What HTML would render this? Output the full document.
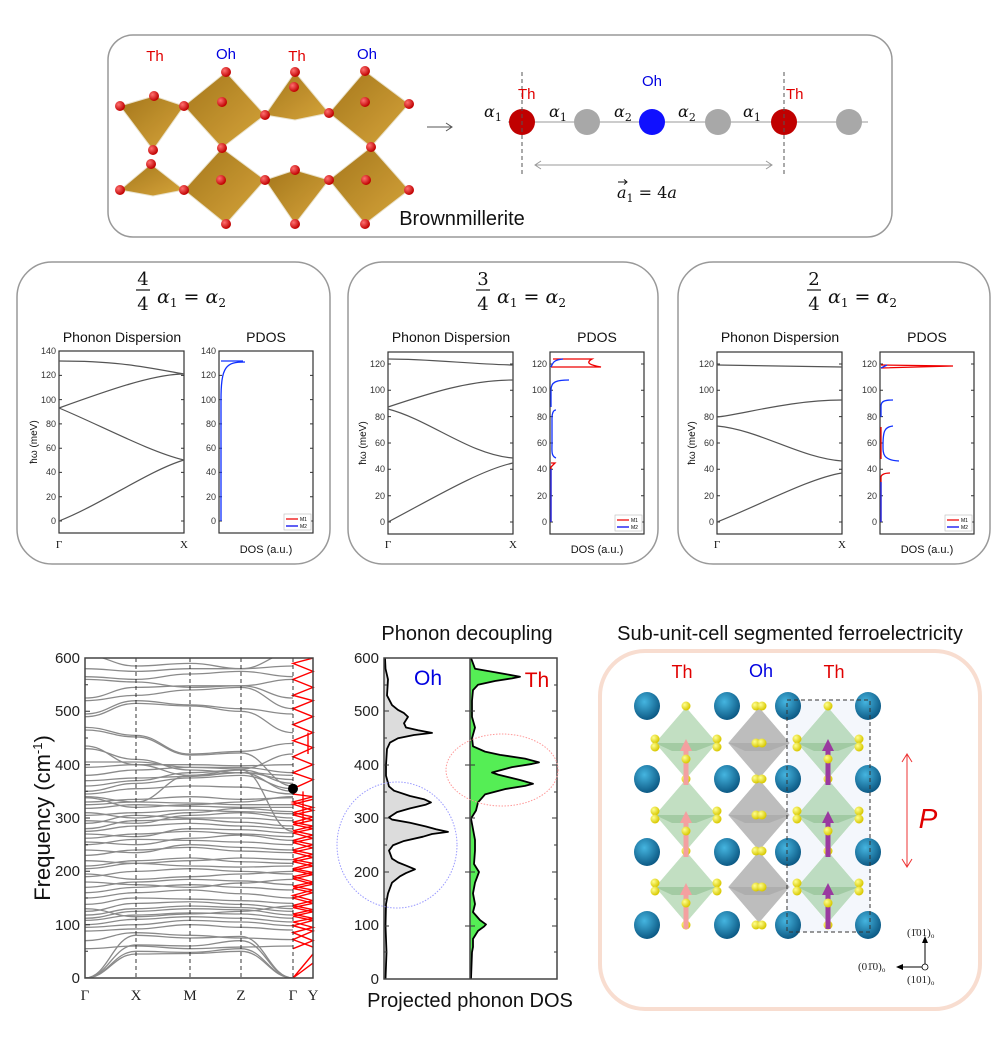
<!DOCTYPE html>
<html><head><meta charset="utf-8"><style>
html,body{margin:0;padding:0;background:#fff;}
svg{display:block;font-family:"Liberation Sans",sans-serif;}
.m{font-family:"DejaVu Serif","Liberation Serif",serif;font-style:italic;}
.tk{font-size:9px;fill:#333;}
.bt{font-size:15px;fill:#222;}
.ns{vector-effect:non-scaling-stroke;}
</style></head><body>
<svg width="1000" height="1040" viewBox="0 0 1000 1040" xmlns="http://www.w3.org/2000/svg">
<defs>
<radialGradient id="rb" cx="35%" cy="35%" r="65%"><stop offset="0" stop-color="#ff7070"/><stop offset="1" stop-color="#c00000"/></radialGradient>
<radialGradient id="bl" cx="40%" cy="35%" r="65%"><stop offset="0" stop-color="#45b5e0"/><stop offset="1" stop-color="#0d5a85"/></radialGradient>
<radialGradient id="yl" cx="35%" cy="35%" r="65%"><stop offset="0" stop-color="#ffff90"/><stop offset="1" stop-color="#d8c800"/></radialGradient>
<linearGradient id="br" x1="0" y1="0" x2="1" y2="1"><stop offset="0" stop-color="#a07010"/><stop offset="1" stop-color="#d4a030"/></linearGradient>
<clipPath id="dc"><rect x="85" y="658" width="208" height="320"/></clipPath>
<g id="og"><polygon points="0,-36 31,0 0,36 -31,0" fill="#9acb9a" opacity="0.6" stroke="#fff" stroke-width="0.5"/><polygon points="-31,0 31,0 10,8 -14,8" fill="#7fb37f" opacity="0.45"/></g>
<g id="oo"><polygon points="0,-36 31,0 0,36 -31,0" fill="#a8a8a8" opacity="0.75" stroke="#fff" stroke-width="0.5"/><polygon points="-31,0 31,0 10,8 -14,8" fill="#999" opacity="0.4"/></g>
<circle id="yb" r="4.5" fill="url(#yl)"/>
<ellipse id="bs" rx="13" ry="14" fill="url(#bl)"/>
<g id="ap"><rect x="-2.5" y="3" width="5" height="39" fill="#f4a0a0"/><polygon points="-6,8 0,-4 6,8" fill="#f4a0a0"/></g>
<g id="aq"><rect x="-2.5" y="3" width="5" height="39" fill="#9a3aa0"/><polygon points="-6,8 0,-4 6,8" fill="#9a3aa0"/></g>
</defs>

<!-- TOP BOX -->
<rect x="108" y="35" width="784" height="202" rx="25" fill="#fff" stroke="#999" stroke-width="1.5"/>
<g stroke="#e8e0c8" stroke-width="1" fill="url(#br)" opacity="0.95">
<polygon points="120,106 154,96 184,106 153,150"/>
<polygon points="226,72 265,115 222,148 184,106"/>
<polygon points="295,72 329,113 295,120 265,115"/>
<polygon points="365,71 409,104 371,147 329,113"/>
<polygon points="151,164 184,190 153,196 120,190"/>
<polygon points="222,148 265,180 226,224 184,190"/>
<polygon points="265,180 295,170 329,180 295,224"/>
<polygon points="371,147 409,190 365,224 329,180"/>
</g>
<g fill="url(#rb)">
<circle cx="120" cy="106" r="5"/><circle cx="154" cy="96" r="5"/><circle cx="184" cy="106" r="5"/><circle cx="153" cy="150" r="5"/>
<circle cx="226" cy="72" r="5"/><circle cx="222" cy="102" r="5"/><circle cx="265" cy="115" r="5"/><circle cx="222" cy="148" r="5"/>
<circle cx="295" cy="72" r="5"/><circle cx="294" cy="87" r="5"/><circle cx="329" cy="113" r="5"/>
<circle cx="365" cy="71" r="5"/><circle cx="365" cy="102" r="5"/><circle cx="409" cy="104" r="5"/><circle cx="371" cy="147" r="5"/>
<circle cx="151" cy="164" r="5"/><circle cx="120" cy="190" r="5"/><circle cx="184" cy="190" r="5"/><circle cx="221" cy="180" r="5"/>
<circle cx="226" cy="224" r="5"/><circle cx="265" cy="180" r="5"/><circle cx="295" cy="170" r="5"/><circle cx="295" cy="224" r="5"/><circle cx="329" cy="180" r="5"/>
<circle cx="366" cy="180" r="5"/><circle cx="409" cy="190" r="5"/><circle cx="365" cy="224" r="5"/>
</g>
<text x="155" y="61" font-size="15" fill="#e00000" text-anchor="middle">Th</text>
<text x="226" y="59" font-size="15" fill="#0000e0" text-anchor="middle">Oh</text>
<text x="297" y="61" font-size="15" fill="#e00000" text-anchor="middle">Th</text>
<text x="367" y="59" font-size="15" fill="#0000e0" text-anchor="middle">Oh</text>
<line x1="427" y1="127" x2="452" y2="127" stroke="#555" stroke-width="1"/>
<path d="M446,123 L452,127 L446,131" fill="none" stroke="#555" stroke-width="1"/>
<text x="462" y="225" font-size="20" fill="#111" text-anchor="middle">Brownmillerite</text>
<line x1="508" y1="122" x2="868" y2="122" stroke="#bbb" stroke-width="1.5"/>
<circle cx="522" cy="122" r="13" fill="#c00000"/>
<circle cx="587" cy="122" r="13" fill="#a8a8a8"/>
<circle cx="652" cy="122" r="13" fill="#1010ff"/>
<circle cx="718" cy="122" r="13" fill="#a8a8a8"/>
<circle cx="784" cy="122" r="13" fill="#c00000"/>
<circle cx="849" cy="122" r="13" fill="#a8a8a8"/>
<line x1="522" y1="72" x2="522" y2="177" stroke="#555" stroke-dasharray="4,3"/>
<line x1="784" y1="72" x2="784" y2="177" stroke="#555" stroke-dasharray="4,3"/>
<line x1="535" y1="165" x2="772" y2="165" stroke="#999"/>
<path d="M541,161 L535,165 L541,169 M766,161 L772,165 L766,169" fill="none" stroke="#999"/>
<text x="518" y="99" font-size="15" fill="#e00000">Th</text>
<text x="786" y="99" font-size="15" fill="#e00000">Th</text>
<text x="652" y="86" font-size="15" fill="#0000e0" text-anchor="middle">Oh</text>
<g class="m" font-size="16" fill="#111">
<text x="484" y="117">α<tspan font-size="11" dy="4" font-style="normal">1</tspan></text>
<text x="549" y="117">α<tspan font-size="11" dy="4" font-style="normal">1</tspan></text>
<text x="614" y="117">α<tspan font-size="11" dy="4" font-style="normal">2</tspan></text>
<text x="678" y="117">α<tspan font-size="11" dy="4" font-style="normal">2</tspan></text>
<text x="743" y="117">α<tspan font-size="11" dy="4" font-style="normal">1</tspan></text>
<text x="617" y="198">a<tspan font-size="11" dy="4" font-style="normal">1</tspan><tspan dy="-4" font-style="normal"> = 4</tspan>a</text>
</g>
<path d="M618,182 L627,182 M624,179.5 L627,182 L624,184.5" fill="none" stroke="#111" stroke-width="1"/>

<!-- MIDDLE PANELS -->
<g fill="#fff" stroke="#999" stroke-width="1.5">
<rect x="17" y="262" width="313" height="302" rx="35"/>
<rect x="348" y="262" width="310" height="302" rx="35"/>
<rect x="678" y="262" width="312" height="302" rx="35"/>
</g>
<g font-family="DejaVu Serif,serif" font-size="18" fill="#111" text-anchor="middle">
<text x="143" y="285">4</text><text x="143" y="310">4</text>
<text x="483" y="285">3</text><text x="483" y="310">4</text>
<text x="814" y="285">2</text><text x="814" y="310">4</text>
</g>
<g stroke="#111" stroke-width="1.2"><line x1="136" y1="290" x2="150" y2="290"/><line x1="476" y1="290" x2="490" y2="290"/><line x1="807" y1="290" x2="821" y2="290"/></g>
<g class="m" font-size="19" fill="#111">
<text x="157" y="303">α<tspan font-size="12" dy="4" font-style="normal">1</tspan><tspan dy="-4" font-style="normal"> = </tspan>α<tspan font-size="12" dy="4" font-style="normal">2</tspan></text>
<text x="497" y="303">α<tspan font-size="12" dy="4" font-style="normal">1</tspan><tspan dy="-4" font-style="normal"> = </tspan>α<tspan font-size="12" dy="4" font-style="normal">2</tspan></text>
<text x="828" y="303">α<tspan font-size="12" dy="4" font-style="normal">1</tspan><tspan dy="-4" font-style="normal"> = </tspan>α<tspan font-size="12" dy="4" font-style="normal">2</tspan></text>
</g>
<g font-size="14" fill="#111" text-anchor="middle">
<text x="122" y="342">Phonon Dispersion</text><text x="266" y="342">PDOS</text>
<text x="451" y="342">Phonon Dispersion</text><text x="597" y="342">PDOS</text>
<text x="780" y="342">Phonon Dispersion</text><text x="927" y="342">PDOS</text>
</g>
<g font-size="11" fill="#111" text-anchor="middle">
<text x="266" y="553">DOS (a.u.)</text><text x="597" y="553">DOS (a.u.)</text><text x="927" y="553">DOS (a.u.)</text>
</g>
<g font-size="11" fill="#111" text-anchor="middle" font-family="Liberation Serif,serif">
<text x="59" y="548">Γ</text><text x="184" y="548">X</text>
<text x="388" y="548">Γ</text><text x="513" y="548">X</text>
<text x="717" y="548">Γ</text><text x="842" y="548">X</text>
</g>
<g font-size="10" fill="#111" text-anchor="middle">
<text transform="translate(37,442) rotate(-90)">ħω (meV)</text>
<text transform="translate(366,443) rotate(-90)">ħω (meV)</text>
<text transform="translate(695,443) rotate(-90)">ħω (meV)</text>
</g>
<!-- frames -->
<g fill="none" stroke="#333" stroke-width="1.2">
<rect x="59" y="351" width="125" height="182"/><rect x="219" y="351" width="94" height="182"/>
<rect x="388" y="352" width="125" height="182"/><rect x="550" y="352" width="94" height="182"/>
<rect x="717" y="352" width="125" height="182"/><rect x="880" y="352" width="94" height="182"/>
</g>
<!-- ticks panel1 -->
<g stroke="#333" stroke-width="1">
<path d="M59,521h3M59,496.7h3M59,472.4h3M59,448.2h3M59,423.9h3M59,399.6h3M59,375.4h3M181,521h3M181,496.7h3M181,472.4h3M181,448.2h3M181,423.9h3M181,399.6h3M181,375.4h3M219,521h3M219,496.7h3M219,472.4h3M219,448.2h3M219,423.9h3M219,399.6h3M219,375.4h3M310,521h3M310,496.7h3M310,472.4h3M310,448.2h3M310,423.9h3M310,399.6h3M310,375.4h3"/>
<path d="M388,522h3M388,495.7h3M388,469.3h3M388,443h3M388,416.6h3M388,390.3h3M388,364h3M510,522h3M510,495.7h3M510,469.3h3M510,443h3M510,416.6h3M510,390.3h3M510,364h3M550,522h3M550,495.7h3M550,469.3h3M550,443h3M550,416.6h3M550,390.3h3M550,364h3M641,522h3M641,495.7h3M641,469.3h3M641,443h3M641,416.6h3M641,390.3h3M641,364h3"/>
<path d="M717,522h3M717,495.7h3M717,469.3h3M717,443h3M717,416.6h3M717,390.3h3M717,364h3M839,522h3M839,495.7h3M839,469.3h3M839,443h3M839,416.6h3M839,390.3h3M839,364h3M880,522h3M880,495.7h3M880,469.3h3M880,443h3M880,416.6h3M880,390.3h3M880,364h3M971,522h3M971,495.7h3M971,469.3h3M971,443h3M971,416.6h3M971,390.3h3M971,364h3"/>
</g>
<g class="tk" text-anchor="end">
<text x="56" y="524">0</text><text x="56" y="500">20</text><text x="56" y="475">40</text><text x="56" y="451">60</text><text x="56" y="427">80</text><text x="56" y="403">100</text><text x="56" y="378">120</text><text x="56" y="354">140</text>
<text x="216" y="524">0</text><text x="216" y="500">20</text><text x="216" y="475">40</text><text x="216" y="451">60</text><text x="216" y="427">80</text><text x="216" y="403">100</text><text x="216" y="378">120</text><text x="216" y="354">140</text>
<text x="385" y="525">0</text><text x="385" y="499">20</text><text x="385" y="472">40</text><text x="385" y="446">60</text><text x="385" y="420">80</text><text x="385" y="393">100</text><text x="385" y="367">120</text>
<text x="547" y="525">0</text><text x="547" y="499">20</text><text x="547" y="472">40</text><text x="547" y="446">60</text><text x="547" y="420">80</text><text x="547" y="393">100</text><text x="547" y="367">120</text>
<text x="714" y="525">0</text><text x="714" y="499">20</text><text x="714" y="472">40</text><text x="714" y="446">60</text><text x="714" y="420">80</text><text x="714" y="393">100</text><text x="714" y="367">120</text>
<text x="877" y="525">0</text><text x="877" y="499">20</text><text x="877" y="472">40</text><text x="877" y="446">60</text><text x="877" y="420">80</text><text x="877" y="393">100</text><text x="877" y="367">120</text>
</g>
<!-- dispersion bands -->
<g fill="none" stroke="#555" stroke-width="1.2">
<path d="M59,361 C119,361 144,367 184,374"/>
<path d="M59,408 C109,390 154,374 184,374"/>
<path d="M59,408 C100,425 150,452 184,460"/>
<path d="M59,521 C100,505 150,470 184,460"/>
<path d="M388,359 C430,359 470,364 513,365"/>
<path d="M388,407 C430,393 470,380 513,380"/>
<path d="M388,409 C430,420 470,455 513,458"/>
<path d="M388,522 C430,500 480,470 513,463"/>
<path d="M717,365 L842,367"/>
<path d="M717,417 C740,415 790,400 842,400"/>
<path d="M717,426 C760,430 800,458 842,461"/>
<path d="M717,522 C760,505 810,478 842,473"/>
</g>
<!-- PDOS curves -->
<g fill="none" stroke-width="1.3">
<path d="M221,521 L221,400 C221,366 226,362 245,362 M221,361 L243,361" stroke="#1030ff"/>
<path d="M551,522 L551,467 L555,463 L551,463" stroke="#e00"/>
<path d="M551,522 L551,469" stroke="#1030ff"/>
<path d="M556,458 C551,456 552,451 552,443 L552,419 C552,413 553,410 556,410" stroke="#1030ff"/>
<path d="M551,407 L551,390 C551,382 556,380 569,380" stroke="#1030ff"/>
<path d="M551,367 L601,367 C590,365 585,363 592,359 L553,359" stroke="#e00"/>
<path d="M551,367 C553,363 553,360 563,359" stroke="#1030ff"/>
<path d="M881,522 L881,477 C881,475 884,473 890,473" stroke="#e00"/>
<path d="M881,522 L881,482" stroke="#1030ff"/>
<path d="M899,461 C883,460 883,454 883,446 C883,432 884,427 893,426" stroke="#1030ff"/>
<path d="M881,459 L881,427" stroke="#e00"/>
<path d="M881,417 L881,406 C881,401 885,400 893,400" stroke="#1030ff"/>
<path d="M881,368 L953,366 L881,365" stroke="#e00"/>
<path d="M881,368 L887,365" stroke="#1030ff"/>
</g>
<!-- legends -->
<g>
<rect x="284" y="514" width="27" height="16" fill="#fff" stroke="#bbb" stroke-width="0.6"/>
<rect x="615" y="515" width="27" height="16" fill="#fff" stroke="#bbb" stroke-width="0.6"/>
<rect x="945" y="515" width="27" height="16" fill="#fff" stroke="#bbb" stroke-width="0.6"/>
<path d="M286,519h12M617,520h12M947,520h12" stroke="#e00" stroke-width="1.3"/>
<path d="M286,526h12M617,527h12M947,527h12" stroke="#00e" stroke-width="1.3"/>
<g font-size="5"><text x="300" y="521">M1</text><text x="300" y="528">M2</text><text x="631" y="522">M1</text><text x="631" y="529">M2</text><text x="961" y="522">M1</text><text x="961" y="529">M2</text></g>
</g>

<!-- BOTTOM LEFT dispersion -->
<g clip-path="url(#dc)">
<g transform="translate(0,978) scale(1,-0.5333)" fill="none" stroke="#8a8a8a" stroke-width="1.3">
<path class="ns" d="M85,0 C108,0 113,50 136,50 S166,48 190,48 S218,55 241,55 S270,0 293,0"/>
<path class="ns" d="M85,0 C108,0 113,45 136,45 S166,46 190,46 S218,50 241,50 S270,0 293,0"/>
<path class="ns" d="M85,0 C108,0 113,62 136,62 S166,60 190,60 S218,70 241,70 S270,0 293,0"/>
<path class="ns" d="M85,0 C108,0 113,80 136,80 S166,75 190,75 S218,78 241,78 S270,0 293,0"/>
<path class="ns" d="M85,55 C108,55 113,60 136,60 S166,55 190,55 S218,58 241,58 S270,60 293,60"/>
<path class="ns" d="M85,70 C108,70 113,85 136,85 S166,80 190,80 S218,75 241,75 S270,72 293,72"/>
<path class="ns" d="M85,88 C108,88 113,92 136,92 S166,100 190,100 S218,95 241,95 S270,90 293,90"/>
<path class="ns" d="M85,95 C108,95 113,100 136,100 S166,108 190,108 S218,105 241,105 S270,98 293,98"/>
<path class="ns" d="M85,100 C108,100 113,110 136,110 S166,115 190,115 S218,112 241,112 S270,105 293,105"/>
<path class="ns" d="M85,108 C108,108 113,118 136,118 S166,122 190,122 S218,120 241,120 S270,112 293,112"/>
<path class="ns" d="M85,112 C108,112 113,125 136,125 S166,130 190,130 S218,128 241,128 S270,118 293,118"/>
<path class="ns" d="M85,118 C108,118 113,130 136,130 S166,135 190,135 S218,132 241,132 S270,125 293,125"/>
<path class="ns" d="M85,125 C108,125 113,140 136,140 S166,143 190,143 S218,138 241,138 S270,130 293,130"/>
<path class="ns" d="M85,130 C108,130 113,115 136,115 S166,120 190,120 S218,125 241,125 S270,135 293,135"/>
<path class="ns" d="M85,138 C108,138 113,150 136,150 S166,148 190,148 S218,145 241,145 S270,140 293,140"/>
<path class="ns" d="M85,150 C108,150 113,160 136,160 S166,165 190,165 S218,158 241,158 S270,150 293,150"/>
<path class="ns" d="M85,160 C108,160 113,170 136,170 S166,175 190,175 S218,170 241,170 S270,165 293,165"/>
<path class="ns" d="M85,170 C108,170 113,180 136,180 S166,185 190,185 S218,182 241,182 S270,175 293,175"/>
<path class="ns" d="M85,180 C108,180 113,175 136,175 S166,170 190,170 S218,178 241,178 S270,185 293,185"/>
<path class="ns" d="M85,190 C108,190 113,200 136,200 S166,205 190,205 S218,200 241,200 S270,195 293,195"/>
<path class="ns" d="M85,195 C108,195 113,185 136,185 S166,190 190,190 S218,195 241,195 S270,200 293,200"/>
<path class="ns" d="M85,205 C108,205 113,215 136,215 S166,210 190,210 S218,208 241,208 S270,210 293,210"/>
<path class="ns" d="M85,210 C108,210 113,220 136,220 S166,225 190,225 S218,218 241,218 S270,215 293,215"/>
<path class="ns" d="M85,220 C108,220 113,215 136,215 S166,220 190,220 S218,225 241,225 S270,222 293,222"/>
<path class="ns" d="M85,230 C108,230 113,240 136,240 S166,245 190,245 S218,238 241,238 S270,235 293,235"/>
<path class="ns" d="M85,240 C108,240 113,235 136,235 S166,250 190,250 S218,245 241,245 S270,240 293,240"/>
<path class="ns" d="M85,250 C108,250 113,260 136,260 S166,258 190,258 S218,255 241,255 S270,250 293,250"/>
<path class="ns" d="M85,255 C108,255 113,250 136,250 S166,262 190,262 S218,268 241,268 S270,258 293,258"/>
<path class="ns" d="M85,262 C108,262 113,270 136,270 S166,275 190,275 S218,270 241,270 S270,265 293,265"/>
<path class="ns" d="M85,270 C108,270 113,265 136,265 S166,280 190,280 S218,278 241,278 S270,272 293,272"/>
<path class="ns" d="M85,275 C108,275 113,285 136,285 S166,290 190,290 S218,285 241,285 S270,280 293,280"/>
<path class="ns" d="M85,280 C108,280 113,295 136,295 S166,298 190,298 S218,292 241,292 S270,285 293,285"/>
<path class="ns" d="M85,290 C108,290 113,305 136,305 S166,300 190,300 S218,300 241,300 S270,295 293,295"/>
<path class="ns" d="M85,295 C108,295 113,290 136,290 S166,305 190,305 S218,310 241,310 S270,300 293,300"/>
<path class="ns" d="M85,305 C108,305 113,310 136,310 S166,315 190,315 S218,312 241,312 S270,308 293,308"/>
<path class="ns" d="M85,310 C108,310 113,300 136,300 S166,310 190,310 S218,318 241,318 S270,312 293,312"/>
<path class="ns" d="M85,318 C108,318 113,325 136,325 S166,322 190,322 S218,320 241,320 S270,320 293,320"/>
<path class="ns" d="M85,325 C108,325 113,330 136,330 S166,328 190,328 S218,325 241,325 S270,325 293,325"/>
<path class="ns" d="M85,330 C108,330 113,335 136,335 S166,340 190,340 S218,335 241,335 S270,338 293,338"/>
<path class="ns" d="M85,338 C108,338 113,320 136,320 S166,325 190,325 S218,330 241,330 S270,340 293,340"/>
<path class="ns" d="M85,345 C108,345 113,355 136,355 S166,360 190,360 S218,358 241,358 S270,345 293,345"/>
<path class="ns" d="M85,350 C108,350 113,365 136,365 S166,375 190,375 S218,380 241,380 S270,355 293,355"/>
<path class="ns" d="M85,360 C108,360 113,370 136,370 S166,385 190,385 S218,390 241,390 S270,365 293,365"/>
<path class="ns" d="M85,370 C108,370 113,375 136,375 S166,378 190,378 S218,385 241,385 S270,372 293,372"/>
<path class="ns" d="M85,380 C108,380 113,390 136,390 S166,395 190,395 S218,395 241,395 S270,385 293,385"/>
<path class="ns" d="M85,395 C108,395 113,400 136,400 S166,400 190,400 S218,398 241,398 S270,400 293,400"/>
<path class="ns" d="M85,405 C108,405 113,405 136,405 S166,395 190,395 S218,392 241,392 S270,420 293,420"/>
<path class="ns" d="M85,430 C108,430 113,410 136,410 S166,390 190,390 S218,385 241,385 S270,380 293,380"/>
<path class="ns" d="M85,465 C108,465 113,452 136,452 S166,418 190,418 S218,422 241,422 S270,360 293,360"/>
<path class="ns" d="M85,470 C108,470 113,455 136,455 S166,420 190,420 S218,425 241,425 S270,440 293,440"/>
<path class="ns" d="M85,490 C108,490 113,515 136,515 S166,510 190,510 S218,500 241,500 S270,460 293,460"/>
<path class="ns" d="M85,495 C108,495 113,520 136,520 S166,512 190,512 S218,505 241,505 S270,495 293,495"/>
<path class="ns" d="M85,520 C108,520 113,530 136,530 S166,540 190,540 S218,545 241,545 S270,505 293,505"/>
<path class="ns" d="M85,525 C108,525 113,545 136,545 S166,548 190,548 S218,548 241,548 S270,525 293,525"/>
<path class="ns" d="M85,560 C108,560 113,555 136,555 S166,545 190,545 S218,548 241,548 S270,560 293,560"/>
<path class="ns" d="M85,565 C108,565 113,560 136,560 S166,570 190,570 S218,575 241,575 S270,565 293,565"/>
<path class="ns" d="M85,580 C108,580 113,575 136,575 S166,580 190,580 S218,580 241,580 S270,585 293,585"/>
<path class="ns" d="M85,605 C108,605 113,585 136,585 S166,590 190,590 S218,580 241,580 S270,610 293,610"/>
<path class="ns" d="M85,340 C108,340 113,330 136,330 S166,380 190,380 S218,390 241,390 S270,275 293,275"/>
<path class="ns" d="M85,435 C108,435 113,400 136,400 S166,380 190,380 S218,385 241,385 S270,350 293,350"/>
</g>
</g>
<g transform="translate(0,978) scale(1,-0.5333)" fill="none" stroke="#f00" stroke-width="1.4">
<path class="ns" d="M293,55 L313,70 L293,85 L313,95 L293,105 L313,112 L293,120 L313,128 L293,136 L313,145 L293,155 L313,165 L293,172 L313,180 L293,190 L313,198 L293,205 L313,215 L293,222 L313,232 L293,240 L313,250 L293,258 L313,268 L293,276 L313,285 L293,292 L313,302 L293,310 L313,320 L293,330 L313,340 L293,345"/>
<path class="ns" d="M313,58 L293,72 L313,88 L293,98 L313,108 L293,116 L313,124 L293,132 L313,140 L293,150 L313,160 L293,168 L313,176 L293,186 L313,194 L293,202 L313,210 L293,218 L313,226 L293,236 L313,244 L293,254 L313,262 L293,272 L313,280 L293,288 L313,296 L293,306 L313,314 L293,326 L313,335"/>
<path class="ns" d="M293,355 L313,372 L293,385 L313,400 L293,415 L313,432 L293,445 L313,460 L293,475 L313,490 L293,505 L313,520 L293,530 L313,545 L293,560 L313,575 L293,590 L313,600"/>
<path class="ns" d="M293,0 L313,45 M293,0 L313,28 M303,350 L303,290 M308,460 L308,420"/>
</g>
<g stroke="#222" stroke-dasharray="4,3" stroke-width="0.9">
<line x1="136" y1="658" x2="136" y2="978"/><line x1="190" y1="658" x2="190" y2="978"/><line x1="241" y1="658" x2="241" y2="978"/><line x1="293" y1="658" x2="293" y2="978"/>
</g>
<path d="M85,978h5M85,951.3h3M85,924.7h5M85,898h3M85,871.3h5M85,844.7h3M85,818h5M85,791.3h3M85,764.7h5M85,738h3M85,711.3h5M85,684.7h3" stroke="#333"/>
<circle cx="293" cy="788.7" r="5" fill="#000"/>
<rect x="85" y="658" width="228" height="320" fill="none" stroke="#444" stroke-width="1.5"/>
<g class="bt" text-anchor="end">
<text x="80" y="983">0</text><text x="80" y="930">100</text><text x="80" y="876">200</text><text x="80" y="823">300</text><text x="80" y="770">400</text><text x="80" y="716">500</text><text x="80" y="663">600</text>
</g>
<g font-family="Liberation Serif,serif" font-size="15" fill="#222" text-anchor="middle">
<text x="85" y="1000">Γ</text><text x="136" y="1000">X</text><text x="190" y="1000">M</text><text x="241" y="1000">Z</text><text x="293" y="1000">Γ</text><text x="313" y="1000">Y</text>
</g>
<text transform="translate(50,818) rotate(-90)" font-size="22" fill="#111" text-anchor="middle">Frequency (cm<tspan font-size="13" dy="-8">-1</tspan><tspan dy="8">)</tspan></text>

<!-- BOTTOM middle PDOS -->
<text x="467" y="640" font-size="20" fill="#111" text-anchor="middle">Phonon decoupling</text>
<g transform="translate(0,979) scale(1,-0.535)">
<path d="M384,0 L385.5,0 L386.5,50 L385.5,100 L386,140 L388,160 L392,180 L400,192 L406,198 L415,205 L406,212 L398,218 L392,225 L389,240 L393,250 L404,258 L423,266 L432,271 L448,275 L436,280 L426,285 L410,292 L392,298 L389,302 L397,312 L410,319 L426,326 L431,330 L424,336 L410,342 L394,352 L389,360 L386,380 L386,400 L387,430 L390,442 L398,450 L414,456 L432,460 L418,465 L406,470 L404,478 L406,484 L408,490 L404,497 L398,503 L392,512 L387,530 L388,560 L385.5,580 L385,600 L384,600 Z" fill="#dcdcdc"/>
<path class="ns" d="M385.5,0 L386.5,50 L385.5,100 L386,140 L388,160 L392,180 L400,192 L406,198 L415,205 L406,212 L398,218 L392,225 L389,240 L393,250 L404,258 L423,266 L432,271 L448,275 L436,280 L426,285 L410,292 L392,298 L389,302 L397,312 L410,319 L426,326 L431,330 L424,336 L410,342 L394,352 L389,360 L386,380 L386,400 L387,430 L390,442 L398,450 L414,456 L432,460 L418,465 L406,470 L404,478 L406,484 L408,490 L404,497 L398,503 L392,512 L387,530 L388,560 L385.5,580 L385,600" fill="none" stroke="#000" stroke-width="1.8" stroke-linejoin="round"/>
<path d="M470,0 L471,0 L472,50 L473,60 L473,75 L478,90 L484,98 L486,102 L480,110 L473,125 L475,140 L473,160 L475,180 L479,200 L474,215 L475,240 L475,260 L473,280 L471,300 L476,315 L478,330 L485,345 L505,355 L525,361 L533,365 L520,372 L498,382 L492,386 L512,396 L532,402 L539,405 L525,412 L500,419 L485,425 L473,435 L472,450 L475,470 L472,490 L472,520 L473,540 L478,550 L495,557 L512,562 L520,565 L505,570 L490,575 L475,580 L471,600 L470,600 Z" fill="#55ee55"/>
<path class="ns" d="M471,0 L472,50 L473,60 L473,75 L478,90 L484,98 L486,102 L480,110 L473,125 L475,140 L473,160 L475,180 L479,200 L474,215 L475,240 L475,260 L473,280 L471,300 L476,315 L478,330 L485,345 L505,355 L525,361 L533,365 L520,372 L498,382 L492,386 L512,396 L532,402 L539,405 L525,412 L500,419 L485,425 L473,435 L472,450 L475,470 L472,490 L472,520 L473,540 L478,550 L495,557 L512,562 L520,565 L505,570 L490,575 L475,580 L471,600" fill="none" stroke="#000" stroke-width="1.8" stroke-linejoin="round"/>
</g>
<path d="M384,979h5M384,952h3M384,926h5M384,899h3M384,872h5M384,845h3M384,818h5M384,792h3M384,765h5M384,738h3M384,711h5M384,685h3M552,979h5M554,952h3M552,926h5M554,899h3M552,872h5M554,845h3M552,818h5M554,792h3M552,765h5M554,738h3M552,711h5M554,685h3M465,926h10M465,872h10M465,818h10M465,765h10M465,711h10" stroke="#333"/>
<rect x="384" y="658" width="173" height="321" fill="none" stroke="#444" stroke-width="1.5"/>
<line x1="470" y1="658" x2="470" y2="979" stroke="#444" stroke-width="1.5"/>
<g class="bt" text-anchor="end">
<text x="379" y="984">0</text><text x="379" y="930">100</text><text x="379" y="877">200</text><text x="379" y="823">300</text><text x="379" y="770">400</text><text x="379" y="716">500</text><text x="379" y="663">600</text>
</g>
<text x="428" y="685" font-size="21" fill="#0000e0" text-anchor="middle">Oh</text>
<text x="537" y="687" font-size="21" fill="#e00000" text-anchor="middle">Th</text>
<ellipse cx="397" cy="845" rx="60" ry="63" fill="none" stroke="#99f" stroke-dasharray="1.5,1.5"/>
<ellipse cx="502" cy="770" rx="56" ry="36" fill="none" stroke="#f99" stroke-dasharray="1.5,1.5"/>
<text x="470" y="1007" font-size="20" fill="#111" text-anchor="middle">Projected phonon DOS</text>

<!-- BOTTOM RIGHT -->
<text x="790" y="640" font-size="20" fill="#111" text-anchor="middle">Sub-unit-cell segmented ferroelectricity</text>
<rect x="600" y="651" width="380" height="358" rx="45" fill="#fff" stroke="#f8ddd0" stroke-width="4"/>
<text x="682" y="678" font-size="18" fill="#e00000" text-anchor="middle">Th</text>
<text x="761" y="677" font-size="18" fill="#0000e0" text-anchor="middle">Oh</text>
<text x="834" y="678" font-size="18" fill="#e00000" text-anchor="middle">Th</text>
<rect x="787" y="700" width="83" height="232" fill="#f4f7fc"/>
<use href="#og" x="686" y="743"/><use href="#og" x="686" y="815"/><use href="#og" x="686" y="887"/>
<use href="#oo" x="759" y="743"/><use href="#oo" x="759" y="815"/><use href="#oo" x="759" y="887"/>
<use href="#og" x="828" y="743"/><use href="#og" x="828" y="815"/><use href="#og" x="828" y="887"/>
<use href="#bs" x="647" y="706"/><use href="#bs" x="727" y="706"/><use href="#bs" x="788" y="706"/><use href="#bs" x="868" y="706"/>
<use href="#bs" x="647" y="779"/><use href="#bs" x="727" y="779"/><use href="#bs" x="788" y="779"/><use href="#bs" x="868" y="779"/>
<use href="#bs" x="647" y="852"/><use href="#bs" x="727" y="852"/><use href="#bs" x="788" y="852"/><use href="#bs" x="868" y="852"/>
<use href="#bs" x="647" y="925"/><use href="#bs" x="727" y="925"/><use href="#bs" x="788" y="925"/><use href="#bs" x="868" y="925"/>
<g>
<use href="#yb" x="686" y="706"/><use href="#yb" x="686" y="779"/><use href="#yb" x="686" y="851"/><use href="#yb" x="686" y="925"/>
<use href="#yb" x="828" y="706"/><use href="#yb" x="828" y="779"/><use href="#yb" x="828" y="851"/><use href="#yb" x="828" y="925"/>
<use href="#yb" x="756" y="706"/><use href="#yb" x="762" y="706"/><use href="#yb" x="756" y="779"/><use href="#yb" x="762" y="779"/>
<use href="#yb" x="756" y="851"/><use href="#yb" x="762" y="851"/><use href="#yb" x="756" y="925"/><use href="#yb" x="762" y="925"/>
<use href="#yb" x="756" y="743"/><use href="#yb" x="762" y="743"/><use href="#yb" x="756" y="815"/><use href="#yb" x="762" y="815"/><use href="#yb" x="756" y="887"/><use href="#yb" x="762" y="887"/>
<use href="#yb" x="655" y="739"/><use href="#yb" x="655" y="747"/><use href="#yb" x="717" y="739"/><use href="#yb" x="717" y="747"/><use href="#yb" x="797" y="739"/><use href="#yb" x="797" y="747"/><use href="#yb" x="859" y="739"/><use href="#yb" x="859" y="747"/>
<use href="#yb" x="655" y="811"/><use href="#yb" x="655" y="819"/><use href="#yb" x="717" y="811"/><use href="#yb" x="717" y="819"/><use href="#yb" x="797" y="811"/><use href="#yb" x="797" y="819"/><use href="#yb" x="859" y="811"/><use href="#yb" x="859" y="819"/>
<use href="#yb" x="655" y="883"/><use href="#yb" x="655" y="891"/><use href="#yb" x="717" y="883"/><use href="#yb" x="717" y="891"/><use href="#yb" x="797" y="883"/><use href="#yb" x="797" y="891"/><use href="#yb" x="859" y="883"/><use href="#yb" x="859" y="891"/>
</g>
<use href="#ap" x="686" y="743"/><use href="#ap" x="686" y="815"/><use href="#ap" x="686" y="887"/>
<use href="#aq" x="828" y="743"/><use href="#aq" x="828" y="815"/><use href="#aq" x="828" y="887"/>
<use href="#yb" x="686" y="759"/><use href="#yb" x="686" y="831"/><use href="#yb" x="686" y="903"/>
<use href="#yb" x="828" y="759"/><use href="#yb" x="828" y="831"/><use href="#yb" x="828" y="903"/>
<rect x="787" y="700" width="83" height="232" fill="none" stroke="#333" stroke-dasharray="4,3"/>
<line x1="907" y1="755" x2="907" y2="866" stroke="#e33"/>
<path d="M902,762 L907,754 L912,762 M902,859 L907,867 L912,859" fill="none" stroke="#e33"/>
<text x="928" y="828" font-size="28" font-style="italic" fill="#e00000" text-anchor="middle">P</text>
<line x1="925" y1="967" x2="925" y2="940" stroke="#000"/><path d="M922,943 L925,936 L928,943Z" fill="#000"/>
<line x1="925" y1="967" x2="900" y2="967" stroke="#000"/><path d="M903,964 L896,967 L903,970Z" fill="#000"/>
<circle cx="925" cy="967" r="3" fill="#fff" stroke="#000" stroke-width="0.8"/>
<g font-family="Liberation Serif,serif" font-size="11" fill="#222">
<text x="907" y="936">(1̄01)<tspan font-size="7" dy="2">o</tspan></text>
<text x="858" y="970">(01̄0)<tspan font-size="7" dy="2">o</tspan></text>
<text x="907" y="983">(101)<tspan font-size="7" dy="2">o</tspan></text>
</g>
</svg>
</body></html>
